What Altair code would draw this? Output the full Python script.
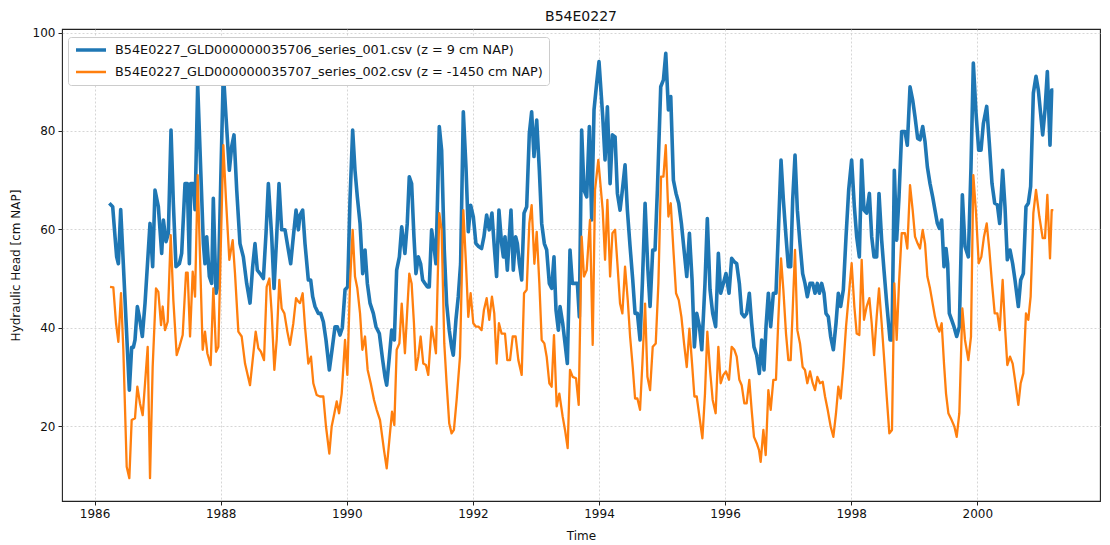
import altair as alt
import pandas as pd

TITLE = "B54E0227"
NAME_SHALLOW = "B54E0227_GLD000000035706_series_001.csv (z = 9 cm NAP)"
NAME_DEEP = "B54E0227_GLD000000035707_series_002.csv (z = -1450 cm NAP)"

# observations: (decimal year, head in cm NAP)
SHALLOW_OBS = [
    (1986.234, 65.3), (1986.287, 64.6), (1986.324, 58.5), (1986.350, 54.4), (1986.377, 53.0),
    (1986.414, 64.0), (1986.445, 55.8), (1986.551, 27.3), (1986.588, 36.0), (1986.615, 36.0),
    (1986.641, 37.5), (1986.678, 44.3), (1986.710, 42.2), (1986.757, 38.2), (1986.800, 45.0),
    (1986.879, 61.2), (1986.921, 52.4), (1986.958, 68.0), (1987.011, 64.6), (1987.064, 55.1),
    (1987.091, 61.9), (1987.133, 57.5), (1987.170, 59.2), (1987.212, 80.2), (1987.249, 65.3),
    (1987.291, 52.4), (1987.344, 53.0), (1987.381, 55.1), (1987.434, 69.3), (1987.471, 69.3),
    (1987.503, 53.0), (1987.524, 69.3), (1987.566, 69.3), (1987.593, 64.0), (1987.635, 89.4),
    (1987.725, 57.1), (1987.751, 53.0), (1987.778, 58.5), (1987.820, 50.4), (1987.857, 49.0),
    (1987.883, 66.3), (1987.926, 47.0), (1987.963, 49.0), (1988.000, 69.3), (1988.042, 92.0),
    (1988.084, 82.9), (1988.137, 72.0), (1988.174, 76.8), (1988.211, 79.2), (1988.254, 68.0),
    (1988.306, 57.1), (1988.359, 54.4), (1988.412, 49.0), (1988.465, 45.0), (1988.507, 52.4),
    (1988.544, 57.1), (1988.581, 51.7), (1988.624, 51.0), (1988.677, 50.0), (1988.719, 59.2),
    (1988.756, 69.3), (1988.809, 58.5), (1988.846, 48.0), (1988.888, 58.5), (1988.925, 69.3),
    (1988.967, 59.9), (1989.020, 59.9), (1989.073, 55.8), (1989.110, 53.0), (1989.152, 58.5),
    (1989.195, 63.9), (1989.232, 59.9), (1989.258, 62.9), (1989.300, 63.9), (1989.337, 57.1),
    (1989.390, 49.7), (1989.427, 49.7), (1989.459, 46.3), (1989.496, 44.3), (1989.549, 42.9),
    (1989.586, 42.9), (1989.628, 41.2), (1989.670, 37.5), (1989.723, 31.4), (1989.766, 35.5),
    (1989.813, 40.2), (1989.850, 40.2), (1989.892, 38.5), (1989.929, 40.0), (1989.972, 47.7),
    (1990.014, 48.3), (1990.051, 66.0), (1990.093, 80.2), (1990.130, 72.0), (1990.167, 66.6),
    (1990.210, 61.2), (1990.252, 51.0), (1990.289, 55.8), (1990.326, 49.0), (1990.368, 45.0),
    (1990.421, 42.9), (1990.463, 40.2), (1990.516, 38.8), (1990.569, 33.4), (1990.606, 30.0),
    (1990.633, 28.3), (1990.675, 34.1), (1990.712, 39.5), (1990.754, 37.5), (1990.791, 51.7),
    (1990.834, 54.4), (1990.871, 60.5), (1990.922, 55.1), (1990.959, 61.2), (1990.991, 70.7),
    (1991.028, 69.3), (1991.065, 58.5), (1991.097, 51.0), (1991.134, 54.4), (1991.171, 53.0),
    (1991.203, 49.7), (1991.240, 49.0), (1991.277, 48.3), (1991.308, 48.3), (1991.345, 59.9),
    (1991.382, 56.5), (1991.414, 53.0), (1991.467, 80.9), (1991.504, 76.1), (1991.546, 55.8),
    (1991.583, 45.0), (1991.625, 39.5), (1991.662, 36.1), (1991.689, 34.4), (1991.731, 41.6),
    (1991.768, 46.3), (1991.805, 53.0), (1991.848, 83.9), (1991.890, 72.7), (1991.927, 59.5),
    (1991.964, 64.9), (1992.006, 62.6), (1992.048, 57.1), (1992.091, 56.5), (1992.138, 56.1),
    (1992.175, 58.5), (1992.218, 62.9), (1992.260, 59.9), (1992.302, 63.3), (1992.339, 56.5),
    (1992.376, 50.4), (1992.413, 63.9), (1992.455, 57.1), (1992.483, 54.4), (1992.509, 58.5),
    (1992.546, 51.7), (1992.578, 58.5), (1992.604, 63.9), (1992.641, 51.7), (1992.678, 58.5),
    (1992.705, 57.1), (1992.737, 53.0), (1992.774, 49.7), (1992.811, 63.3), (1992.853, 64.6),
    (1992.895, 79.5), (1992.932, 83.9), (1992.969, 74.8), (1993.012, 82.2), (1993.054, 72.0),
    (1993.091, 61.2), (1993.133, 57.1), (1993.170, 55.8), (1993.212, 49.0), (1993.249, 48.0),
    (1993.286, 54.4), (1993.318, 43.6), (1993.355, 39.5), (1993.382, 44.3), (1993.424, 40.9),
    (1993.461, 36.8), (1993.498, 32.7), (1993.540, 55.8), (1993.577, 49.0), (1993.620, 49.0),
    (1993.657, 49.0), (1993.688, 42.2), (1993.725, 80.2), (1993.762, 68.0), (1993.805, 66.6),
    (1993.847, 80.9), (1993.884, 61.9), (1993.921, 84.3), (1993.963, 89.7), (1994.000, 94.1),
    (1994.059, 82.9), (1994.096, 74.1), (1994.133, 84.9), (1994.176, 69.3), (1994.213, 79.2),
    (1994.255, 78.8), (1994.292, 67.3), (1994.334, 63.9), (1994.371, 68.0), (1994.413, 73.1),
    (1994.450, 63.9), (1994.493, 56.5), (1994.535, 49.7), (1994.572, 42.9), (1994.609, 42.9),
    (1994.651, 37.5), (1994.688, 49.0), (1994.731, 65.3), (1994.773, 52.4), (1994.810, 44.3),
    (1994.852, 55.8), (1994.889, 55.8), (1994.926, 68.0), (1994.979, 89.0), (1995.022, 90.4),
    (1995.059, 95.8), (1995.101, 84.3), (1995.138, 87.0), (1995.180, 70.0), (1995.222, 67.3),
    (1995.265, 65.3), (1995.307, 61.2), (1995.349, 55.8), (1995.392, 50.4), (1995.434, 59.2),
    (1995.476, 49.7), (1995.513, 36.1), (1995.550, 42.9), (1995.593, 40.2), (1995.630, 35.5),
    (1995.681, 49.0), (1995.718, 62.2), (1995.761, 47.7), (1995.803, 42.9), (1995.850, 40.2),
    (1995.893, 55.1), (1995.930, 47.0), (1995.972, 49.0), (1996.014, 51.0), (1996.062, 47.0),
    (1996.104, 54.1), (1996.147, 53.4), (1996.184, 53.0), (1996.226, 49.0), (1996.263, 42.9),
    (1996.305, 42.2), (1996.342, 42.9), (1996.384, 47.0), (1996.421, 40.9), (1996.458, 36.1),
    (1996.501, 34.4), (1996.543, 30.7), (1996.580, 37.5), (1996.617, 31.4), (1996.649, 40.2),
    (1996.686, 47.0), (1996.723, 40.2), (1996.765, 47.0), (1996.807, 47.0), (1996.844, 59.2),
    (1996.887, 74.1), (1996.924, 66.0), (1996.966, 58.5), (1997.003, 52.4), (1997.040, 52.4),
    (1997.072, 66.0), (1997.109, 75.1), (1997.146, 63.9), (1997.188, 57.1), (1997.230, 51.0),
    (1997.267, 49.0), (1997.304, 46.3), (1997.347, 49.0), (1997.389, 49.0), (1997.426, 47.0),
    (1997.463, 49.0), (1997.495, 47.0), (1997.532, 49.0), (1997.569, 47.0), (1997.600, 42.9),
    (1997.637, 42.2), (1997.674, 38.2), (1997.717, 35.5), (1997.759, 40.9), (1997.796, 47.0),
    (1997.833, 44.3), (1997.875, 47.7), (1997.918, 58.5), (1997.960, 68.0), (1998.007, 74.1),
    (1998.050, 64.6), (1998.087, 58.5), (1998.129, 54.4), (1998.166, 74.1), (1998.203, 63.9),
    (1998.245, 63.3), (1998.288, 67.3), (1998.325, 58.5), (1998.362, 54.4), (1998.404, 54.4),
    (1998.441, 67.3), (1998.483, 57.8), (1998.520, 51.7), (1998.563, 45.0), (1998.616, 37.5),
    (1998.647, 37.5), (1998.684, 72.0), (1998.721, 57.8), (1998.758, 66.6), (1998.801, 79.9),
    (1998.853, 79.9), (1998.890, 77.1), (1998.933, 89.0), (1998.975, 86.3), (1999.012, 82.9),
    (1999.054, 78.5), (1999.091, 78.2), (1999.134, 80.9), (1999.171, 77.8), (1999.208, 72.7),
    (1999.250, 69.3), (1999.292, 66.6), (1999.329, 63.9), (1999.366, 61.2), (1999.398, 60.2),
    (1999.435, 61.9), (1999.472, 52.4), (1999.504, 56.1), (1999.530, 53.0), (1999.556, 42.9),
    (1999.593, 41.6), (1999.630, 40.2), (1999.673, 38.2), (1999.715, 40.2), (1999.763, 67.0),
    (1999.805, 56.5), (1999.858, 54.4), (1999.900, 72.7), (1999.937, 93.8), (1999.980, 83.6),
    (2000.022, 76.1), (2000.059, 76.1), (2000.096, 81.5), (2000.149, 85.0), (2000.191, 77.5),
    (2000.233, 69.3), (2000.276, 65.3), (2000.318, 65.0), (2000.355, 61.2), (2000.402, 72.0),
    (2000.439, 64.6), (2000.476, 53.8), (2000.519, 55.8), (2000.561, 53.0), (2000.598, 49.7),
    (2000.651, 44.3), (2000.688, 49.7), (2000.730, 51.0), (2000.772, 64.6), (2000.809, 65.3),
    (2000.846, 68.7), (2000.889, 87.7), (2000.931, 91.1), (2000.968, 88.3), (2001.037, 79.2),
    (2001.074, 84.3), (2001.111, 92.1), (2001.153, 77.1), (2001.180, 88.3), (2001.206, 88.3),
]

DEEP_OBS = [
    (1986.245, 48.3), (1986.297, 48.2), (1986.340, 40.9), (1986.377, 37.1), (1986.419, 47.0),
    (1986.456, 35.4), (1986.509, 11.7), (1986.551, 9.4), (1986.588, 21.2), (1986.641, 21.6),
    (1986.678, 28.0), (1986.720, 24.6), (1986.763, 22.2), (1986.800, 28.7), (1986.842, 36.1),
    (1986.879, 9.4), (1986.921, 32.0), (1986.974, 48.0), (1987.011, 47.3), (1987.054, 40.5),
    (1987.080, 44.3), (1987.117, 39.5), (1987.159, 41.2), (1987.207, 58.8), (1987.249, 45.6),
    (1987.302, 34.4), (1987.344, 36.1), (1987.397, 38.5), (1987.450, 51.2), (1987.476, 51.2),
    (1987.514, 38.2), (1987.556, 51.4), (1987.593, 46.3), (1987.635, 71.0), (1987.714, 35.5),
    (1987.751, 39.2), (1987.788, 34.8), (1987.841, 32.4), (1987.883, 48.0), (1987.926, 35.1),
    (1987.963, 36.1), (1988.000, 55.8), (1988.042, 77.1), (1988.084, 66.0), (1988.137, 53.8),
    (1988.190, 57.8), (1988.227, 51.0), (1988.280, 39.2), (1988.333, 38.2), (1988.386, 32.7),
    (1988.465, 28.3), (1988.507, 33.4), (1988.555, 39.2), (1988.597, 35.8), (1988.639, 35.1),
    (1988.687, 33.4), (1988.729, 48.3), (1988.772, 50.0), (1988.809, 42.9), (1988.851, 31.4),
    (1988.888, 37.5), (1988.930, 49.7), (1988.967, 43.9), (1989.010, 42.9), (1989.057, 39.2),
    (1989.099, 36.5), (1989.152, 40.9), (1989.195, 46.0), (1989.232, 45.3), (1989.258, 45.0),
    (1989.300, 47.0), (1989.337, 40.2), (1989.390, 32.7), (1989.432, 34.1), (1989.469, 28.7),
    (1989.522, 26.3), (1989.575, 26.0), (1989.628, 26.0), (1989.670, 19.9), (1989.723, 14.4),
    (1989.760, 19.9), (1989.803, 22.6), (1989.840, 25.0), (1989.877, 22.6), (1989.919, 26.6),
    (1989.972, 37.5), (1990.009, 30.4), (1990.051, 49.0), (1990.093, 59.9), (1990.130, 50.4),
    (1990.167, 48.0), (1990.210, 42.9), (1990.247, 35.5), (1990.289, 38.2), (1990.331, 31.4),
    (1990.379, 28.7), (1990.432, 25.3), (1990.474, 23.3), (1990.527, 21.2), (1990.590, 15.1),
    (1990.633, 11.4), (1990.675, 17.2), (1990.717, 22.9), (1990.754, 20.2), (1990.791, 35.5),
    (1990.834, 36.8), (1990.871, 44.9), (1990.922, 34.8), (1990.959, 43.6), (1990.991, 51.0),
    (1991.028, 49.0), (1991.065, 40.9), (1991.097, 31.4), (1991.134, 34.1), (1991.171, 38.2),
    (1991.213, 32.7), (1991.255, 32.4), (1991.292, 30.4), (1991.345, 40.2), (1991.382, 37.5),
    (1991.414, 34.8), (1991.467, 63.3), (1991.504, 59.9), (1991.546, 36.8), (1991.583, 28.7),
    (1991.625, 20.5), (1991.662, 18.5), (1991.699, 19.2), (1991.742, 25.3), (1991.795, 34.1),
    (1991.848, 63.9), (1991.890, 53.0), (1991.927, 42.2), (1991.964, 47.0), (1992.006, 40.9),
    (1992.048, 40.2), (1992.091, 40.2), (1992.138, 39.5), (1992.175, 43.6), (1992.218, 46.0),
    (1992.260, 41.6), (1992.302, 46.3), (1992.339, 42.9), (1992.376, 32.7), (1992.413, 40.9),
    (1992.455, 38.8), (1992.509, 38.8), (1992.546, 33.4), (1992.589, 33.4), (1992.631, 38.2),
    (1992.678, 38.2), (1992.721, 33.4), (1992.774, 30.4), (1992.811, 47.0), (1992.853, 47.7),
    (1992.895, 61.2), (1992.932, 64.9), (1992.975, 53.0), (1993.012, 59.5), (1993.054, 49.0),
    (1993.091, 37.5), (1993.133, 36.8), (1993.170, 34.1), (1993.212, 28.7), (1993.249, 28.0),
    (1993.286, 38.5), (1993.329, 24.0), (1993.371, 26.6), (1993.424, 21.9), (1993.461, 19.2),
    (1993.503, 15.5), (1993.540, 31.4), (1993.583, 30.0), (1993.636, 29.7), (1993.678, 24.3),
    (1993.725, 58.5), (1993.762, 50.4), (1993.805, 51.7), (1993.857, 61.9), (1993.900, 36.5),
    (1993.937, 68.0), (1993.989, 74.1), (1994.059, 63.9), (1994.096, 53.8), (1994.133, 66.0),
    (1994.176, 50.4), (1994.213, 59.2), (1994.255, 59.9), (1994.292, 53.0), (1994.334, 44.9),
    (1994.371, 42.9), (1994.413, 52.4), (1994.456, 45.6), (1994.493, 38.2), (1994.535, 32.0),
    (1994.572, 25.6), (1994.609, 25.6), (1994.651, 23.3), (1994.688, 32.7), (1994.731, 44.9),
    (1994.768, 30.0), (1994.810, 27.3), (1994.852, 36.1), (1994.900, 36.8), (1994.942, 49.0),
    (1994.984, 70.7), (1995.022, 70.7), (1995.059, 77.1), (1995.101, 62.6), (1995.138, 65.3),
    (1995.180, 55.8), (1995.222, 47.0), (1995.265, 45.6), (1995.307, 42.2), (1995.349, 36.8),
    (1995.392, 32.0), (1995.434, 39.8), (1995.476, 32.7), (1995.513, 26.0), (1995.550, 26.0),
    (1995.593, 21.9), (1995.640, 17.5), (1995.681, 26.6), (1995.718, 39.2), (1995.761, 31.4),
    (1995.803, 25.3), (1995.850, 22.6), (1995.893, 36.1), (1995.930, 28.7), (1995.972, 30.4),
    (1996.014, 31.1), (1996.062, 29.4), (1996.104, 36.1), (1996.147, 35.5), (1996.184, 34.1),
    (1996.226, 29.4), (1996.263, 28.3), (1996.305, 24.6), (1996.342, 24.6), (1996.384, 29.4),
    (1996.421, 23.3), (1996.458, 17.8), (1996.501, 16.5), (1996.538, 15.1), (1996.564, 12.7),
    (1996.607, 19.2), (1996.644, 14.1), (1996.686, 27.3), (1996.723, 23.3), (1996.765, 29.4),
    (1996.807, 29.4), (1996.844, 41.6), (1996.887, 54.1), (1996.924, 47.7), (1996.966, 38.8),
    (1997.003, 33.4), (1997.040, 33.4), (1997.072, 43.6), (1997.109, 55.8), (1997.146, 39.5),
    (1997.188, 36.8), (1997.230, 32.0), (1997.267, 31.4), (1997.304, 28.7), (1997.347, 31.1),
    (1997.389, 28.7), (1997.426, 27.3), (1997.463, 30.0), (1997.505, 28.7), (1997.548, 29.0),
    (1997.585, 26.0), (1997.627, 23.3), (1997.674, 19.9), (1997.717, 17.8), (1997.759, 22.6),
    (1997.796, 28.0), (1997.833, 25.6), (1997.875, 32.0), (1997.918, 40.2), (1997.960, 46.3),
    (1998.007, 53.1), (1998.050, 44.3), (1998.087, 38.8), (1998.129, 38.5), (1998.166, 53.8),
    (1998.203, 41.6), (1998.245, 44.3), (1998.288, 46.0), (1998.325, 40.9), (1998.362, 34.4),
    (1998.404, 42.2), (1998.441, 48.0), (1998.483, 40.9), (1998.520, 34.1), (1998.563, 26.0),
    (1998.605, 18.5), (1998.647, 19.2), (1998.684, 49.0), (1998.721, 37.5), (1998.758, 49.0),
    (1998.801, 59.2), (1998.853, 59.2), (1998.890, 56.1), (1998.933, 69.0), (1998.975, 63.9),
    (1999.012, 58.5), (1999.054, 57.1), (1999.091, 56.1), (1999.134, 59.9), (1999.171, 57.1),
    (1999.208, 50.4), (1999.250, 48.0), (1999.292, 44.9), (1999.329, 42.2), (1999.366, 40.2),
    (1999.398, 39.2), (1999.435, 40.9), (1999.472, 32.7), (1999.504, 26.6), (1999.541, 22.6),
    (1999.593, 21.2), (1999.636, 19.9), (1999.673, 17.8), (1999.715, 22.6), (1999.763, 43.9),
    (1999.805, 37.5), (1999.858, 33.4), (1999.900, 38.2), (1999.937, 71.0), (1999.980, 63.3),
    (2000.022, 53.1), (2000.064, 54.4), (2000.106, 58.5), (2000.149, 61.2), (2000.191, 55.8),
    (2000.233, 49.0), (2000.276, 42.9), (2000.318, 42.9), (2000.355, 39.5), (2000.402, 49.7),
    (2000.439, 40.2), (2000.476, 32.4), (2000.519, 34.1), (2000.561, 32.7), (2000.598, 29.4),
    (2000.651, 24.3), (2000.688, 28.7), (2000.730, 30.7), (2000.772, 42.9), (2000.809, 41.6),
    (2000.846, 46.3), (2000.889, 63.3), (2000.931, 68.0), (2000.984, 62.6), (2001.037, 58.2),
    (2001.074, 58.2), (2001.111, 67.0), (2001.153, 54.1), (2001.180, 63.9), (2001.206, 63.9),
]

X_TICKS = [1986, 1988, 1990, 1992, 1994, 1996, 1998, 2000]
Y_TICKS = [20, 40, 60, 80, 100]
COLORS = ["#1f77b4", "#ff7f0e"]

rows = []
for name, obs in ((NAME_SHALLOW, SHALLOW_OBS), (NAME_DEEP, DEEP_OBS)):
    for t, h in obs:
        rows.append({"time": t, "head": h, "series": name})
df = pd.DataFrame(rows)

FONT = "DejaVu Sans"

chart = (
    alt.Chart(df)
    .mark_line(strokeJoin="round")
    .encode(
        x=alt.X(
            "time:Q",
            title="Time",
            scale=alt.Scale(domain=[1985.483, 2001.946], nice=False, zero=False),
            axis=alt.Axis(values=X_TICKS, format="d"),
        ),
        y=alt.Y(
            "head:Q",
            title="Hydraulic Head [cm NAP]",
            scale=alt.Scale(domain=[4.75, 100.74], nice=False, zero=False),
            axis=alt.Axis(values=Y_TICKS),
        ),
        color=alt.Color(
            "series:N",
            scale=alt.Scale(domain=[NAME_SHALLOW, NAME_DEEP], range=COLORS),
            legend=alt.Legend(
                title=None,
                orient="none",
                legendX=6,
                legendY=8,
                symbolType="stroke",
                symbolSize=900,
                symbolStrokeWidth=3,
                clipHeight=14,
                rowPadding=8,
                labelFontSize=12.8,
                labelFont=FONT,
                labelColor="#111",
                labelLimit=700,
                labelOffset=7,
                fillColor="white",
                strokeColor="#cccccc",
                cornerRadius=3,
                padding=6,
            ),
        ),
        strokeWidth=alt.StrokeWidth(
            "series:N",
            scale=alt.Scale(domain=[NAME_SHALLOW, NAME_DEEP], range=[3.6, 2.3]),
            legend=None,
        ),
    )
    .properties(
        width=1038,
        height=472,
        title=alt.TitleParams(TITLE, fontSize=14, font=FONT, fontWeight="normal", offset=3, color="#111"),
        autosize=alt.AutoSizeParams(type="none"),
        padding={"left": 62, "top": 29, "right": 10, "bottom": 44},
    )
    .configure_view(stroke="#222", strokeWidth=1.1)
    .configure_axis(
        domain=False,
        grid=True,
        gridColor="#cccccc",
        gridDash=[2, 2],
        gridWidth=0.8,
        tickColor="#222",
        tickSize=4,
        labelFont=FONT,
        labelFontSize=12,
        labelColor="#111",
        labelPadding=3,
        titleFont=FONT,
        titleFontSize=12,
        titleFontWeight="normal",
        titleColor="#111",
    )
    .configure_axisY(titlePadding=10)
    .configure_axisX(titlePadding=11)
)

chart.save("out.html", embed_options={"renderer": "svg", "actions": False})
